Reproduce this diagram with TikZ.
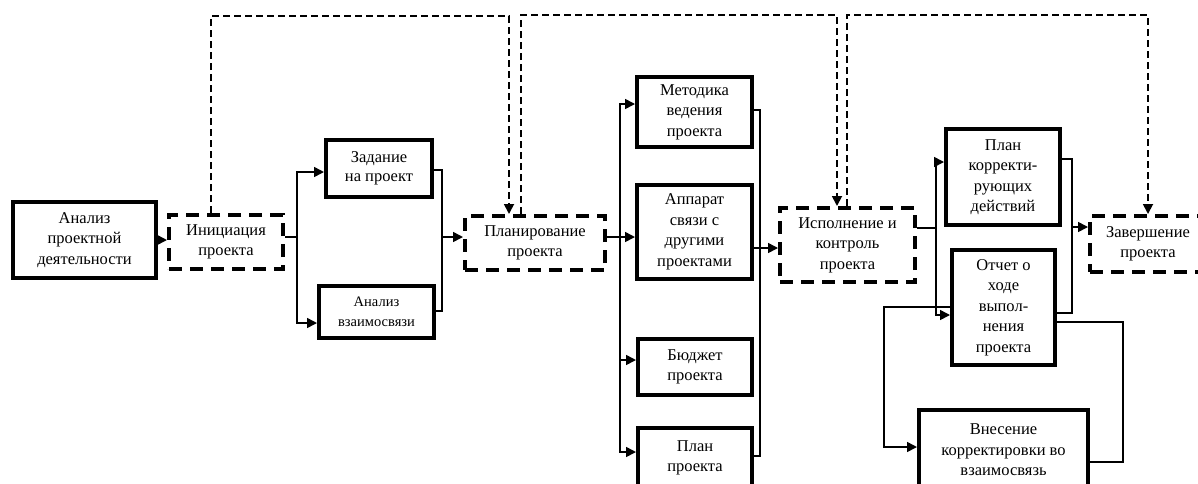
\documentclass[tikz,border=0pt]{standalone}
\usepackage{fontspec}
\setmainfont{Liberation Serif}
\usetikzlibrary{arrows.meta}
\begin{document}
\begin{tikzpicture}[x=1pt,y=-1pt,
 box/.style={draw, line width=4pt, inner sep=0pt, align=center, font=\fontsize{16.5}{20.5}\selectfont},
 dbox/.style={box, dash pattern=on 13pt off 8pt},
 conn/.style={line width=1.6pt},
 thinconn/.style={line width=1.2pt},
 arr/.style={conn, -{Triangle[length=10pt,width=10pt]}},
 dloop/.style={line width=1.8pt, dash pattern=on 7pt off 4pt},
 larr/.style={dloop, -{Triangle[length=10pt,width=10pt]}},
]
\useasboundingbox (0,0) rectangle (1198,483);
\clip (0,0) rectangle (1198,483);

% boxes
\node[box, minimum width=143pt, minimum height=76pt] (A) at (84.5,240) {Анализ\\проектной\\деятельности};
\node[dbox, minimum width=114pt, minimum height=54pt] (I) at (226,242) {Инициация\\проекта};
\node[box, minimum width=106pt, minimum height=57pt, font=\fontsize{16.5}{19.5}\selectfont] (Z) at (379,168.5) {Задание\\на проект};
\node[box, minimum width=115pt, minimum height=52pt, font=\fontsize{14.5}{20}\selectfont] (V) at (376.5,312) {Анализ\\взаимосвязи};
\node[dbox, minimum width=140pt, minimum height=54pt] (P) at (535,243) {Планирование\\проекта};
\node[box, minimum width=115pt, minimum height=70pt] (M) at (694.5,112) {Методика\\ведения\\проекта};
\node[box, minimum width=115pt, minimum height=94pt] (Ap) at (694.5,232) {Аппарат\\связи с\\другими\\проектами};
\node[box, minimum width=114pt, minimum height=56pt] (B) at (695,367) {Бюджет\\проекта};
\node[box, minimum width=114pt, minimum height=60pt] (Pl) at (695,458) {План\\проекта};
\node[dbox, minimum width=135pt, minimum height=74pt] (E) at (847.5,245) {Исполнение и\\контроль\\проекта};
\node[box, minimum width=114pt, minimum height=96pt] (K) at (1003,177) {План\\корректи-\\рующих\\действий};
\node[box, minimum width=103pt, minimum height=115pt] (O) at (1003.5,307.5) {Отчет о\\ходе\\выпол-\\нения\\проекта};
\node[box, minimum width=169pt, minimum height=81pt] (Vn) at (1003.5,450) {Внесение\\корректировки во\\взаимосвязь};
\node[dbox, minimum width=116pt, minimum height=56pt] (Zv) at (1148,244) {Завершение\\проекта};

% Анализ -> Инициация
\draw[arr] (A.east) -- (A.east -| I.west);

% Инициация fan-out
\coordinate (i1) at (297,237);
\coordinate (i2) at (297,172);
\coordinate (i3) at (297,323);
\draw[conn] (I.east |- i1) -- (i1);
\draw[arr] (i1) -- (i2) -- (Z.west |- i2);
\draw[arr] (i1) -- (i3) -- (V.west |- i3);

% return to Планирование
\coordinate (z1) at (442,170);
\coordinate (z2) at (442,311);
\coordinate (z3) at (442,237);
\draw[conn] (Z.east |- z1) -- (z1) -- (z2) -- (V.east |- z2);
\draw[arr] (z3) -- (P.west |- z3);

% Планирование fan-out
\coordinate (p1) at (620,237);
\coordinate (p2) at (620,104);
\coordinate (p3) at (620,360);
\coordinate (p4) at (620,452);
\draw[conn] (P.east |- p1) -- (p1);
\draw[arr] (p1) -- (p2) -- (M.west |- p2);
\draw[arr] (p1) -- (Ap.west |- p1);
\draw[arr] (p1) -- (p4) -- (Pl.west |- p4);
\draw[arr] (p3) -- (B.west |- p3);

% return to Исполнение
\coordinate (r1) at (760,110);
\coordinate (r2) at (760,456);
\coordinate (r3) at (760,248);
\draw[thinconn] (M.east |- r1) -- (r1) -- (r2) -- (Pl.east |- r2);
\draw[arr] (Ap.east |- r3) -- (E.west |- r3);

% Исполнение fan-out
\coordinate (e1) at (936,228);
\coordinate (e2) at (936,162);
\coordinate (e3) at (936,315);
\draw[conn] (E.east |- e1) -- (e1);
\draw[arr] (e1) -- (e2) -- (K.west |- e2);
\draw[arr] (e1) -- (e3) -- (O.west |- e3);

% Отчет -> Внесение
\coordinate (o1) at (884,307);
\coordinate (o2) at (884,447);
\draw[arr] (O.west |- o1) -- (o1) -- (o2) -- (Vn.west |- o2);

% План корр. return and -> Завершение
\coordinate (k1) at (1072,159);
\coordinate (k2) at (1072,313);
\coordinate (k3) at (1072,227);
\draw[conn] (K.east |- k1) -- (k1) -- (k2) -- (O.east |- k2);
\draw[arr] (k3) -- (Zv.west |- k3);

% Отчет -> Внесение right loop
\coordinate (q1) at (1123,322);
\coordinate (q2) at (1123,462);
\draw[conn] (O.east |- q1) -- (q1) -- (q2) -- (Vn.east |- q2);

% dashed loops
\coordinate (d1) at (211,16);
\coordinate (d2) at (509,16);
\draw[larr] (I.north -| d1) -- (d1) -- (d2) -- (P.north -| d2);
\coordinate (d3) at (521,15);
\coordinate (d4) at (837,15);
\draw[larr] (P.north -| d3) -- (d3) -- (d4) -- (E.north -| d4);
\coordinate (d5) at (847,15);
\coordinate (d6) at (1148,15);
\draw[larr] (E.north -| d5) -- (d5) -- (d6) -- (Zv.north -| d6);
\end{tikzpicture}
\end{document}
